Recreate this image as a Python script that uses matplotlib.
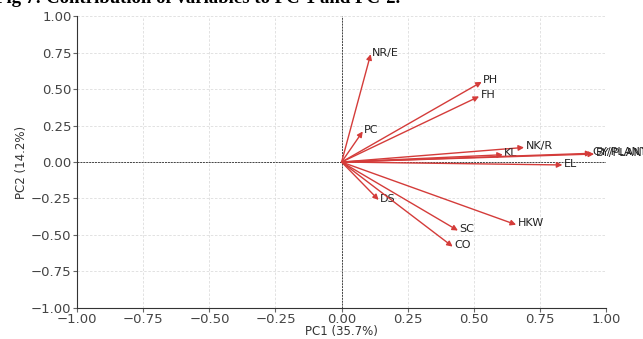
import matplotlib
import matplotlib.pyplot as plt

matplotlib.use("agg")

variables = ["NR/E", "PH", "FH", "PC", "NK/R", "KL", "GY/PLANT", "BY/PLANT",
             "EL", "DS", "SC", "CO", "HKW"]
pc1 = [0.11, 0.53, 0.52, 0.08, 0.69, 0.61, 0.945, 0.955, 0.835, 0.14, 0.44, 0.42, 0.66]
pc2 = [0.74, 0.55, 0.45, 0.21, 0.10, 0.05, 0.06, 0.055, -0.02, -0.26, -0.47, -0.58, -0.43]
ticks = [-1.00, -0.75, -0.50, -0.25, 0.00, 0.25, 0.50, 0.75, 1.00]

fig = plt.figure(figsize=(6.43, 3.39), dpi=100)
ax = fig.add_axes([0.12, 0.092, 0.8225, 0.86])

for x, y, name in zip(pc1, pc2, variables):
    ax.annotate("", xy=(x, y), xytext=(0, 0),
                arrowprops=dict(arrowstyle="-|>", color="#d43c3a", lw=1.0,
                                mutation_scale=8, shrinkA=0, shrinkB=0))
    ax.annotate(name, xy=(x, y), xytext=(1, 1), textcoords="offset points",
                fontsize=8, color="#222222", ha="left", va="center",
                annotation_clip=False)

ax.axhline(0, color="#444444", lw=0.7, ls=(0, (2, 1)))
ax.axvline(0, color="#444444", lw=0.7, ls=(0, (2, 1)))

ax.set_xlim(-1, 1)
ax.set_ylim(-1, 1)
ax.set_xticks(ticks)
ax.set_yticks(ticks)
ax.grid(True, color="#dddddd", lw=0.6, ls=(0, (3, 2)))
ax.tick_params(labelsize=9.5, labelcolor="#444444", color="#666666", pad=1, length=3)
ax.spines["top"].set_visible(False)
ax.spines["right"].set_visible(False)
ax.spines["left"].set_color("#333333")
ax.spines["bottom"].set_color("#333333")
ax.set_xlabel("PC1 (35.7%)", fontsize=8.5, color="#333333", labelpad=-1)
ax.set_ylabel("PC2 (14.2%)", fontsize=8.5, color="#333333", labelpad=2)

# caption from the source page, cut off by the crop
fig.text(-0.008, 1 - 3 / 339, "Fig 7: Contribution of variables to PC-1 and PC-2.",
         fontsize=13.5, fontweight="bold", family="Liberation Serif", va="baseline")

plt.savefig("out.png", dpi=100)
